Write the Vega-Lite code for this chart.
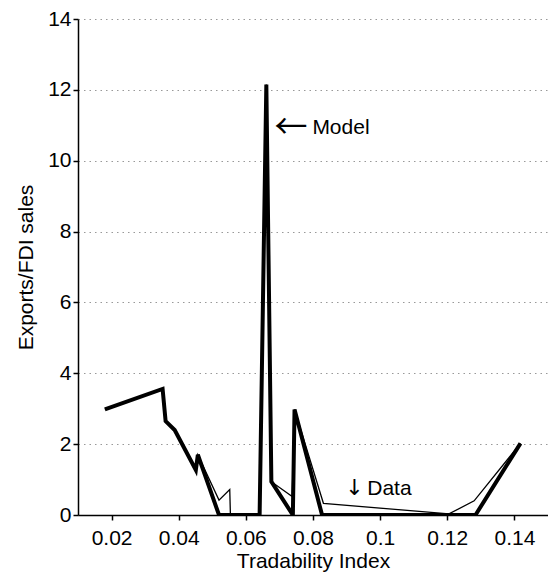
{
  "$schema": "https://vega.github.io/schema/vega-lite/v6.json",
  "width": 470,
  "height": 496,
  "autosize": {"type": "none"},
  "padding": {"left": 78, "top": 19, "right": 0, "bottom": 61},
  "background": "white",
  "config": {
    "view": {"stroke": null},
    "font": "Liberation Sans",
    "axis": {
      "labelFont": "Liberation Sans",
      "titleFont": "Liberation Sans",
      "labelFontSize": 21,
      "titleFontSize": 21,
      "titleFontWeight": "normal",
      "labelColor": "black",
      "titleColor": "black",
      "domainColor": "black",
      "tickColor": "black",
      "domainWidth": 1.5,
      "tickWidth": 1.5,
      "tickSize": 5
    }
  },
  "datasets": {
    "lines": [
      {"series": "Model", "x": 0.018, "y": 2.98},
      {"series": "Model", "x": 0.0352, "y": 3.56},
      {"series": "Model", "x": 0.0361, "y": 2.65},
      {"series": "Model", "x": 0.0388, "y": 2.40},
      {"series": "Model", "x": 0.0451, "y": 1.27},
      {"series": "Model", "x": 0.0457, "y": 1.70},
      {"series": "Model", "x": 0.052, "y": 0},
      {"series": "Model", "x": 0.0641, "y": 0},
      {"series": "Model", "x": 0.0661, "y": 12.15},
      {"series": "Model", "x": 0.0676, "y": 0.94},
      {"series": "Model", "x": 0.074, "y": 0},
      {"series": "Model", "x": 0.0745, "y": 2.98},
      {"series": "Model", "x": 0.0827, "y": 0},
      {"series": "Model", "x": 0.1284, "y": 0},
      {"series": "Model", "x": 0.1418, "y": 2.02},
      {"series": "Data", "x": 0.018, "y": 2.98},
      {"series": "Data", "x": 0.0352, "y": 3.56},
      {"series": "Data", "x": 0.0361, "y": 2.65},
      {"series": "Data", "x": 0.0388, "y": 2.40},
      {"series": "Data", "x": 0.0451, "y": 1.27},
      {"series": "Data", "x": 0.0457, "y": 1.70},
      {"series": "Data", "x": 0.052, "y": 0.42},
      {"series": "Data", "x": 0.0552, "y": 0.72},
      {"series": "Data", "x": 0.0554, "y": 0},
      {"series": "Data", "x": 0.0641, "y": 0},
      {"series": "Data", "x": 0.0661, "y": 12.15},
      {"series": "Data", "x": 0.0676, "y": 0.94},
      {"series": "Data", "x": 0.0738, "y": 0.52},
      {"series": "Data", "x": 0.0745, "y": 2.98},
      {"series": "Data", "x": 0.0831, "y": 0.33},
      {"series": "Data", "x": 0.1205, "y": 0.03},
      {"series": "Data", "x": 0.128, "y": 0.40},
      {"series": "Data", "x": 0.1418, "y": 2.02}
    ]
  },
  "layer": [
    {
      "data": {"name": "lines"},
      "mark": {"type": "line", "color": "black", "strokeJoin": "miter", "strokeCap": "butt", "clip": true},
      "encoding": {
        "x": {
          "field": "x", "type": "quantitative",
          "scale": {"domain": [0.01, 0.15], "nice": false, "zero": false},
          "axis": {
            "title": "Tradability Index",
            "values": [0.02, 0.04, 0.06, 0.08, 0.1, 0.12, 0.14],
            "format": "~g",
            "grid": false,
            "labelPadding": 7,
            "titlePadding": 2
          }
        },
        "y": {
          "field": "y", "type": "quantitative",
          "scale": {"domain": [0, 14], "nice": false},
          "axis": {
            "title": "Exports/FDI sales",
            "values": [0, 2, 4, 6, 8, 10, 12, 14],
            "grid": true,
            "gridColor": "#999999",
            "gridDash": [1.5, 4],
            "gridWidth": 1,
            "labelPadding": 2,
            "titlePadding": 11
          }
        },
        "detail": {"field": "series", "type": "nominal"},
        "strokeWidth": {
          "field": "series", "type": "nominal",
          "scale": {"domain": ["Model", "Data"], "range": [4, 1.3]},
          "legend": null
        },
        "order": {"field": "x", "type": "quantitative"}
      }
    },
    {
      "data": {"values": [{"x": 0.0679, "y": 10.75, "arrow": "←"}]},
      "mark": {"type": "text", "align": "left", "baseline": "alphabetic", "fontSize": 33, "font": "Noto Sans CJK JP", "color": "black", "dy": 4, "dx": 2},
      "encoding": {
        "x": {"field": "x", "type": "quantitative"},
        "y": {"field": "y", "type": "quantitative"},
        "text": {"field": "arrow", "type": "nominal"}
      }
    },
    {
      "data": {"values": [{"x": 0.0679, "y": 10.75, "word": "Model"}]},
      "mark": {"type": "text", "align": "left", "baseline": "alphabetic", "fontSize": 21, "font": "Liberation Sans", "color": "black", "dx": 40},
      "encoding": {
        "x": {"field": "x", "type": "quantitative"},
        "y": {"field": "y", "type": "quantitative"},
        "text": {"field": "word", "type": "nominal"}
      }
    },
    {
      "data": {"values": [{"x": 0.0902, "y": 0.565, "arrow": "↓"}]},
      "mark": {"type": "text", "align": "left", "baseline": "alphabetic", "fontSize": 22, "font": "DejaVu Sans", "color": "black", "dx": -2},
      "encoding": {
        "x": {"field": "x", "type": "quantitative"},
        "y": {"field": "y", "type": "quantitative"},
        "text": {"field": "arrow", "type": "nominal"}
      }
    },
    {
      "data": {"values": [{"x": 0.0902, "y": 0.565, "word": "Data"}]},
      "mark": {"type": "text", "align": "left", "baseline": "alphabetic", "fontSize": 21, "font": "Liberation Sans", "color": "black", "dx": 20},
      "encoding": {
        "x": {"field": "x", "type": "quantitative"},
        "y": {"field": "y", "type": "quantitative"},
        "text": {"field": "word", "type": "nominal"}
      }
    }
  ]
}
